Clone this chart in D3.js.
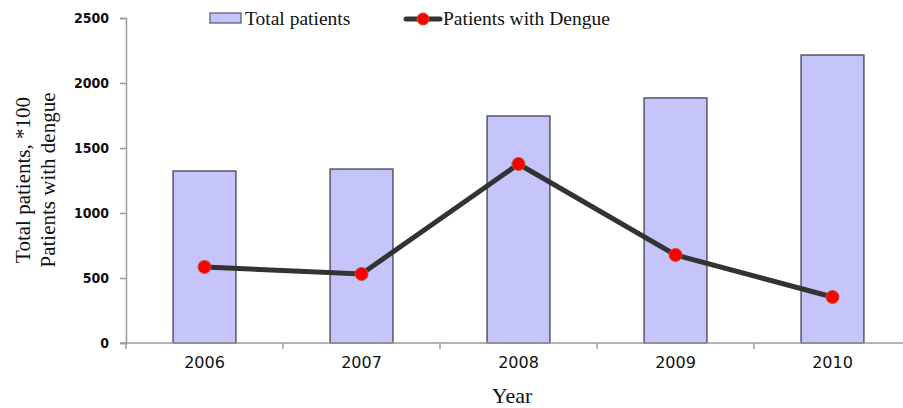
<!DOCTYPE html>
<html>
<head>
<meta charset="utf-8">
<script src="https://cdn.jsdelivr.net/npm/d3@7"></script>
<style>
  body { margin: 0; background: #fff; }
  svg { display: block; }
</style>
</head>
<body>
<svg id="chart" width="903" height="408"></svg>
<script>
var years = ["2006", "2007", "2008", "2009", "2010"];
var totalPatients = [1323, 1338, 1746, 1885, 2215];
var dengue = [585, 531, 1377, 677, 354];
var yTicks = [0, 500, 1000, 1500, 2000, 2500];

var svg = d3.select("#chart");

var margin = { top: 18, left: 126, bottom: 65, right: -8 };
var width = 903 - margin.left - margin.right,
  height = 408 - margin.top - margin.bottom;

var g = svg.append("g")
  .attr("transform", "translate(" + margin.left + "," + margin.top + ")");

var x = d3.scaleBand()
  .domain(years)
  .range([0, width])
  .paddingInner(0.6)
  .paddingOuter(0.3);

var xCat = d3.scaleBand()
  .domain(years)
  .range([0, width]);

var y = d3.scaleLinear()
  .domain([0, 2500])
  .range([height, 0]);

var axisColor = "#9a9a9a";

// y axis
var yAxis = g.append("g")
  .call(d3.axisLeft(y).tickValues(yTicks).tickFormat(d3.format("d")).tickSize(6).tickPadding(11));
yAxis.select(".domain").attr("stroke", axisColor).attr("stroke-width", 1.5);
yAxis.selectAll(".tick line").attr("stroke", axisColor).attr("stroke-width", 1.5);
yAxis.selectAll(".tick text")
  .attr("fill", "#111")
  .attr("font-family", "'DejaVu Sans Condensed', 'DejaVu Sans', sans-serif")
  .style("font-stretch", "condensed")
  .attr("font-weight", "bold")
  .attr("font-size", 14);

// bars
var data = years.map(function(d, i) {
  return { year: d, total: totalPatients[i], dengue: dengue[i] };
});

g.selectAll("rect.bar")
  .data(data)
  .enter()
  .append("rect")
  .attr("class", "bar")
  .attr("x", function(d) { return x(d.year); })
  .attr("y", function(d) { return y(d.total); })
  .attr("width", x.bandwidth())
  .attr("height", function(d) { return height - y(d.total); })
  .attr("fill", "#c5c5fb")
  .attr("stroke", "#55556a")
  .attr("stroke-width", 1.5);

// x axis
var xAxisG = g.append("g")
  .attr("transform", "translate(0," + height + ")");
xAxisG.append("line")
  .attr("x1", -6).attr("x2", width)
  .attr("stroke", axisColor).attr("stroke-width", 1.5);
xAxisG.selectAll("line.xtick")
  .data(years)
  .enter()
  .append("line")
  .attr("class", "xtick")
  .attr("x1", function(d) { return xCat(d); })
  .attr("x2", function(d) { return xCat(d); })
  .attr("y1", 0).attr("y2", 6)
  .attr("stroke", axisColor).attr("stroke-width", 1.5);
xAxisG.selectAll("text.xlab")
  .data(years)
  .enter()
  .append("text")
  .attr("class", "xlab")
  .attr("x", function(d) { return xCat(d) + xCat.bandwidth() / 2; })
  .attr("y", 25)
  .attr("text-anchor", "middle")
  .attr("fill", "#111")
  .attr("font-family", "'DejaVu Sans', Verdana, sans-serif")
  .attr("font-size", 16)
  .text(function(d) { return d; });

// dengue line
var line = d3.line()
  .x(function(d) { return xCat(d.year) + xCat.bandwidth() / 2; })
  .y(function(d) { return y(d.dengue); });

g.append("path")
  .datum(data)
  .attr("d", line)
  .attr("fill", "none")
  .attr("stroke", "#333333")
  .attr("stroke-width", 5);

g.selectAll("circle.pt")
  .data(data)
  .enter()
  .append("circle")
  .attr("class", "pt")
  .attr("cx", function(d) { return xCat(d.year) + xCat.bandwidth() / 2; })
  .attr("cy", function(d) { return y(d.dengue); })
  .attr("r", 6.5)
  .attr("fill", "#ff0000")
  .attr("stroke", "#c0561a")
  .attr("stroke-width", 1);

// axis titles
var serif = "'Liberation Serif', 'DejaVu Serif', serif";
svg.append("text")
  .attr("transform", "translate(30,180) rotate(-90)")
  .attr("text-anchor", "middle")
  .attr("font-family", serif)
  .attr("font-size", 21)
  .attr("fill", "#111")
  .text("Total patients, *100");
svg.append("text")
  .attr("transform", "translate(55,180) rotate(-90)")
  .attr("text-anchor", "middle")
  .attr("font-family", serif)
  .attr("font-size", 21)
  .attr("fill", "#111")
  .text("Patients with dengue");

svg.append("text")
  .attr("x", 512)
  .attr("y", 403)
  .attr("text-anchor", "middle")
  .attr("font-family", serif)
  .attr("font-size", 22)
  .attr("fill", "#111")
  .text("Year");

// legend
var legend = svg.append("g");
legend.append("rect")
  .attr("x", 210).attr("y", 13)
  .attr("width", 31).attr("height", 10)
  .attr("fill", "#c5c5fb")
  .attr("stroke", "#55556a")
  .attr("stroke-width", 1.2);
legend.append("text")
  .attr("x", 245).attr("y", 25)
  .attr("font-family", serif)
  .attr("font-size", 19.5)
  .attr("fill", "#111")
  .text("Total patients");

legend.append("line")
  .attr("x1", 406).attr("x2", 440)
  .attr("y1", 19).attr("y2", 19)
  .attr("stroke", "#333333")
  .attr("stroke-width", 5)
  .attr("stroke-linecap", "round");
legend.append("circle")
  .attr("cx", 423).attr("cy", 19)
  .attr("r", 6)
  .attr("fill", "#ff0000")
  .attr("stroke", "#c0561a")
  .attr("stroke-width", 1);
legend.append("text")
  .attr("x", 443).attr("y", 25)
  .attr("font-family", serif)
  .attr("font-size", 19.5)
  .attr("fill", "#111")
  .text("Patients with Dengue");
</script>
</body>
</html>
